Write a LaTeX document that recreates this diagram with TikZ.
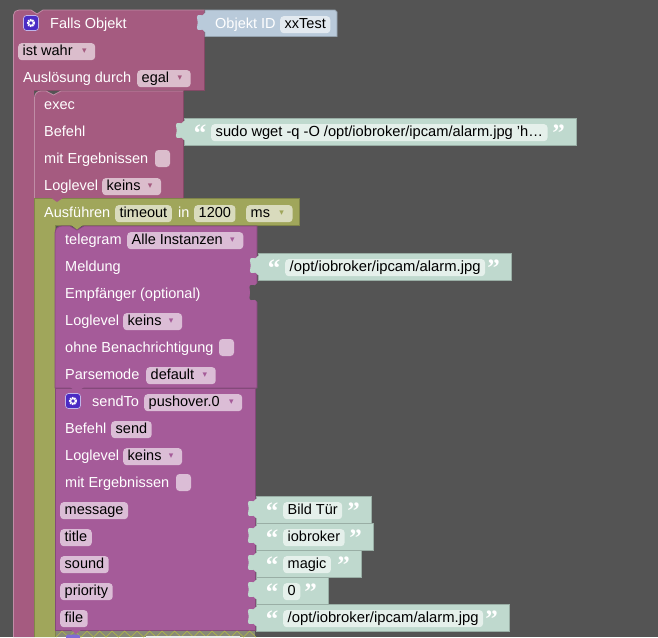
\documentclass[tikz,border=0pt]{standalone}
\usepackage{fontspec}
\setmainfont{Liberation Sans}
\newfontfamily\symbolfont{DejaVu Sans}
\newfontfamily\quotefont{Liberation Serif}
\usetikzlibrary{positioning}
\definecolor{canvasgrey}{HTML}{545454}
\definecolor{rosefill}{HTML}{A55B80}
\definecolor{roseedge}{HTML}{844966}
\definecolor{roselight}{HTML}{C08DA6}
\definecolor{rosefield}{HTML}{DBBDCC}
\definecolor{purplefill}{HTML}{A55B99}
\definecolor{purpleedge}{HTML}{84497A}
\definecolor{purplefield}{HTML}{DBBDD6}
\definecolor{olivefill}{HTML}{A0A65B}
\definecolor{oliveedge}{HTML}{808549}
\definecolor{olivefield}{HTML}{D9DBBD}
\definecolor{mintfill}{HTML}{BFD9CE}
\definecolor{mintedge}{HTML}{99AEA5}
\definecolor{mintfield}{HTML}{E5F0EB}
\definecolor{steelfill}{HTML}{B9CADA}
\definecolor{steelfield}{HTML}{E3EAF0}
\definecolor{iconblue}{HTML}{4A2BC4}
\tikzset{
  purplebox/.style={fill=purplefill,draw=purpleedge,line width=0.8pt},
  olivebox/.style={fill=olivefill,draw=oliveedge,line width=0.8pt},
  mintbox/.style={fill=mintfill,draw=mintedge,line width=0.8pt},
  label/.style={text=white,anchor=base west,inner sep=0pt,yshift=0.6pt,font=\fontsize{14.5}{14}\selectfont},
  fieldbox/.style={rounded corners=3.5pt,minimum height=17pt,inner xsep=4.5pt,inner ysep=0pt,text height=10.5pt,text depth=3pt,text=black,anchor=base west,yshift=0.6pt,font=\fontsize{14.5}{14}\selectfont},
  rosefld/.style={fieldbox,fill=rosefield},
  purplefld/.style={fieldbox,fill=purplefield},
  olivefld/.style={fieldbox,fill=olivefield},
  mintfld/.style={fieldbox,fill=mintfield},
  steelfld/.style={fieldbox,fill=steelfield},
  quotemark/.style={text=white,anchor=base,inner sep=0pt,font=\quotefont\fontsize{25}{25}\selectfont\bfseries},
  tick/.style={anchor=center,inner sep=0pt,font=\symbolfont\fontsize{9}{9}\selectfont}
}
% Zapfen links am Block
\newcommand{\blockpeg}[3]{%
  \fill[#3] (#1+1,#2+3) -- (#1,#2+3) .. controls (#1-1,#2+5.5) and (#1-4,#2+6) .. (#1-6,#2+5)
    .. controls (#1-8.5,#2+4.5) and (#1-8.5,#2+9) .. (#1-7.5,#2+11)
    .. controls (#1-7,#2+12) and (#1-7,#2+13) .. (#1-7.5,#2+14)
    .. controls (#1-8.5,#2+16) and (#1-8.5,#2+20.5) .. (#1-6,#2+20)
    .. controls (#1-4,#2+19) and (#1-1,#2+19.5) .. (#1,#2+22) -- (#1+1,#2+22) -- cycle;}
% Textblock mit Anfuehrungszeichen
\newcommand{\stringblock}[6]{%
  \draw[mintbox] (#2,#3) rectangle (#4,#3+27);
  \blockpeg{#2}{#3}{mintfill}
  \node[quotemark] (#1open) at (#2+16,#3+23.5) {“};
  \node[mintfld] (#1text) at (#2+#5,#3+19) {#6};
  \node[quotemark] (#1close) at (#4-17.5,#3+23.5) {”};}
% Zahnrad
\newcommand{\gearicon}[3]{%
  \fill[iconblue,draw=white!65!iconblue,line width=0.7pt,rounded corners=3pt] (#2-7.5,#3-7.5) rectangle (#2+7.5,#3+7.5);
  \node[circle,draw=white,line width=1.7pt,dashed,dash pattern=on 1.4pt off 0.9pt,inner sep=0pt,minimum size=6.5pt] (#1) at (#2,#3) {};
  \draw[white,line width=1.1pt] (#2,#3) circle (2.4pt);}
% Feld mit Auswahlpfeil
\newcommand{\dropfield}[6]{%
  \node[#2fld] (#1) at (#3,#4) {#5\rule{#6pt}{0pt}};
  \node[tick,text=#2fill] (#1arrow) at ([xshift=-11pt,yshift=0.5pt]#1.east) {▾};}
\newcommand{\widerfont}{\fontsize{14.8}{14}\selectfont}
\begin{document}
\begin{tikzpicture}[x=1pt,y=-1pt]

  % Hintergrund
  \fill[canvasgrey] (0,0) rectangle (658,637);
  \useasboundingbox (0,0) rectangle (658,637);

  % aeusserer Block
  \fill[rosefill] (13.5,637) -- (13.5,15) .. controls (13.5,12) and (16,10) .. (19,10)
    -- (31,10) -- (37,14) -- (43,10) -- (204.5,10) -- (204.5,90) -- (34,90) -- (34,637) -- cycle;
  \draw[roselight,line width=0.8pt] (13.5,637) -- (13.5,15) .. controls (13.5,12) and (16,10) .. (19,10)
    -- (31,10) -- (37,14) -- (43,10) -- (204.5,10);
  \draw[roseedge,line width=0.8pt] (204.5,10) -- (204.5,90) -- (34,90);

  % Objekt ID
  \draw[fill=steelfill,draw=steelfill!80!black,line width=0.8pt] (205,10) -- (335,10) -- (337,12) -- (337,36.5) -- (205,36.5) -- cycle;
  \blockpeg{205}{10}{steelfill}
  \node[label] (objektLabel) at (215,29) {Objekt ID};
  \node[steelfld] (objektField) at (280,29) {xxTest};

  % exec
  \fill[rosefill] (34.5,198) -- (34.5,98) .. controls (34.5,94) and (37,91) .. (41,91)
    -- (46,91) -- (53.5,95) -- (61,91) -- (183.5,91) -- (183.5,198) -- cycle;
  \draw[roselight,line width=0.8pt] (34.5,198) -- (34.5,98) .. controls (34.5,94) and (37,91) .. (41,91)
    -- (46,91) -- (53.5,95) -- (61,91) -- (183.5,91);
  \draw[roseedge,line width=0.8pt] (183.5,91) -- (183.5,198);
  \stringblock{befehlStr}{184}{118}{576}{27}{\fontsize{14.65}{14}\selectfont sudo wget -q -O /opt/iobroker/ipcam/alarm.jpg 'h…}

  % timeout
  \draw[olivebox] (34,637) -- (34,198) -- (299.5,198) -- (299.5,225) -- (55,225) -- (55,637);
  \fill[olivefill] (34.6,198.6) rectangle (54.5,637);
  \fill[rosefill] (50,197) -- (57,202) -- (64,197) -- cycle;

  % telegram
  \draw[purplebox] (55,388) -- (55,233) .. controls (55,229) and (58,226) .. (62,226)
    -- (70,226) -- (77,230) -- (84,226) -- (257,226) -- (257,388) -- cycle;
  \fill[olivefill] (70,224) -- (77,229.5) -- (84,224) -- cycle;
  \stringblock{meldungStr}{258}{253}{511}{27}{\widerfont /opt/iobroker/ipcam/alarm.jpg}
  \blockpeg{257.5}{280}{canvasgrey}

  % sendTo
  \draw[purplebox] (55,630) -- (55,388) -- (255,388) -- (255,630) -- cycle;
  \fill[purplefill] (70,387) -- (77,392) -- (84,387) -- cycle;
  \foreach \boxname/\ypos/\xend/\strtext in {
      bild/496/371/Bild Tür,
      iobr/523/373/iobroker,
      magic/550/361/magic,
      prio/577/328/0,
      datei/604/509/{\widerfont /opt/iobroker/ipcam/alarm.jpg}}
    {\stringblock{\boxname}{256}{\ypos}{\xend}{27}{\strtext}}

  % Block darunter
  \fill[gray!75!olivefill] (55.5,630.5) rectangle (255,637);
  \foreach \i in {0,...,15}
    \draw[olivefill!85!yellow,line width=0.7pt] (56+\i*12.5,637) -- (62+\i*12.5,631) -- (68.5+\i*12.5,637);
  \fill[purplefill] (69,628) -- (76,634) -- (83,628) -- cycle;
  \fill[iconblue!70!white,rounded corners=2pt] (66,634.5) rectangle (80,640);
  \fill[white!85!gray] (146,636) rectangle (240,640);

  % Texte Falls Objekt
  \gearicon{falls}{31}{23}
  \node[label] (fallsLabel) at (50,29) {Falls Objekt};
  \dropfield{wahrField}{rose}{18}{56}{ist wahr}{18}
  \node[label] (ausloesungLabel) at (23,83) {Auslösung durch};
  \dropfield{egalField}{rose}{137}{83}{egal}{17}

  % Texte exec
  \node[label] (execLabel) at (44,110) {exec};
  \node[label] (befehlLabel) at (44,137) {Befehl};
  \node[label] (ergebLabel) at (44,164) {mit Ergebnissen};
  \fill[rosefield,rounded corners=3.5pt] (155,150) rectangle (170,167);
  \node[label] (loglevelLabel) at (44,191) {Loglevel};
  \dropfield{keinsField}{rose}{102}{191}{keins}{16}

  % Texte timeout
  \node[label] (ausLabel) at (44,218) {Ausführen};
  \node[olivefld] (timeoutField) at (115,218) {timeout};
  \node[label] (inLabel) at (178,218) {in};
  \node[olivefld] (zeitField) at (194,218) {1200};
  \dropfield{msField}{olive}{246}{218}{ms}{18}

  % Texte telegram
  \node[label] (telegramLabel) at (65,245) {telegram};
  \dropfield{instanzField}{purple}{127}{245}{Alle Instanzen}{16}
  \node[label] (meldungLabel) at (65,272) {Meldung};
  \node[label] (empfLabel) at (65,299) {Empfänger (optional)};
  \node[label] (logTeleLabel) at (65,326) {Loglevel};
  \dropfield{keinsTele}{purple}{123}{326}{keins}{16}
  \node[label] (ohneLabel) at (65,353) {ohne Benachrichtigung};
  \fill[purplefield,rounded corners=3.5pt] (219,339) rectangle (234,356);
  \node[label] (parseLabel) at (65,380) {Parsemode};
  \dropfield{parseField}{purple}{146}{380}{default}{17}

  % Texte sendTo
  \gearicon{sendGear}{73}{401}
  \node[label] (sendLabel) at (92,407) {sendTo};
  \dropfield{pushField}{purple}{144}{407}{pushover.0}{18}
  \node[label] (befehlSend) at (65,434) {Befehl};
  \node[purplefld] (sendField) at (111,434) {send};
  \node[label] (logSend) at (65,461) {Loglevel};
  \dropfield{keinsSend}{purple}{123}{461}{keins}{16}
  \node[label] (ergebSend) at (65,488) {mit Ergebnissen};
  \fill[purplefield,rounded corners=3.5pt] (176,474) rectangle (191,491);
  \node[purplefld] (msgField) at (60,515) {message};
  \node[purplefld] (titleField) at (60,542) {title};
  \node[purplefld] (soundField) at (60,569) {sound};
  \node[purplefld] (prioField) at (60,596) {priority};
  \node[purplefld] (fileField) at (60,623) {file};

\end{tikzpicture}
\end{document}
